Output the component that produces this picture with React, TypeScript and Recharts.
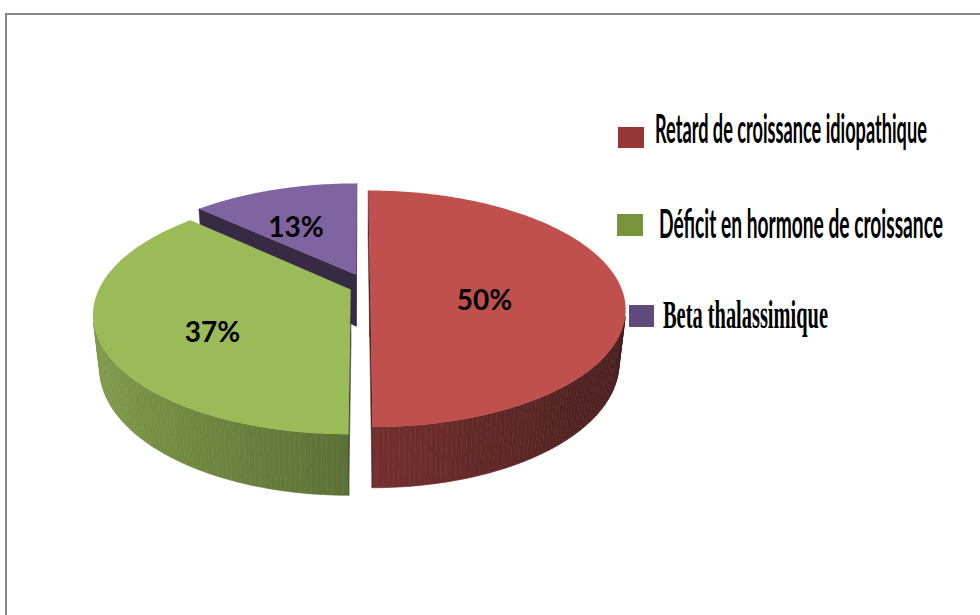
import { useLayoutEffect, useRef, useState } from 'react';
import { PieChart, Pie, Cell, Legend } from 'recharts';

const categories = [
  'Retard de croissance idiopathique',
  'Déficit en hormone de croissance',
  'Beta thalassimique',
];
const shares = [50, 37, 13];
const sliceColors = ['#c0504d', '#9bbb59', '#8064a2'];
const legendColors = ['#953735', '#77933c', '#604a7b'];

const data = categories.map((name, i) => ({ name, value: shares[i] }));

// 3d look: tilt of the pie plane, camera distance, thickness, explode distance
const TILT = (27 * Math.PI) / 180;
const DIST = 1107;
const DEPTH = 60;
const EXPLODE = 10;
const EXPLODE_BACK = 2.5; // explode pushes further along the depth axis
const RAD = Math.PI / 180;

type Pt = [number, number];

function project(cx: number, cy: number, x: number, b: number, z: number): Pt {
  const depth = DIST + b * Math.cos(TILT) - z * Math.sin(TILT);
  const s = DIST / depth;
  return [cx + x * s, cy - (b * Math.sin(TILT) + z * Math.cos(TILT)) * s];
}

function shade(hex: string, f: number) {
  const n = parseInt(hex.slice(1), 16);
  const c = [(n >> 16) & 255, (n >> 8) & 255, n & 255].map((v) =>
    Math.max(0, Math.min(255, Math.round(v * f)))
  );
  return `rgb(${c[0]},${c[1]},${c[2]})`;
}

function area(pts: Pt[]) {
  let s = 0;
  for (let i = 0; i < pts.length; i++) {
    const [x0, y0] = pts[i];
    const [x1, y1] = pts[(i + 1) % pts.length];
    s += x0 * y1 - x1 * y0;
  }
  return s / 2;
}

const toPath = (pts: Pt[]) =>
  pts.map((p, i) => `${i ? 'L' : 'M'}${p[0].toFixed(2)},${p[1].toFixed(2)}`).join('') + 'Z';

function explodeOffset(midDeg: number) {
  const m = midDeg * RAD;
  return [EXPLODE * Math.cos(m), EXPLODE * EXPLODE_BACK * Math.sin(m)];
}

function geom(props: any) {
  const { cx, cy, outerRadius: r, startAngle, endAngle } = props;
  const hi = Math.max(startAngle, endAngle);
  const lo = Math.min(startAngle, endAngle);
  const [ox, ob] = explodeOffset((hi + lo) / 2);
  const pt = (a: number, rr: number, z: number) =>
    project(cx, cy, ox + rr * Math.cos(a * RAD), ob + rr * Math.sin(a * RAD), z);
  return { hi, lo, r, pt };
}

const SliceSides = (props: any) => {
  const { hi, lo, r, pt } = geom(props);
  const fill = props.fill;
  const faces: { pts: Pt[]; color: string }[] = [];
  const steps = Math.max(2, Math.ceil(hi - lo));
  for (let i = 0; i < steps; i++) {
    const a0 = hi - ((hi - lo) * i) / steps;
    const a1 = hi - ((hi - lo) * (i + 1)) / steps;
    const quad: Pt[] = [pt(a0, r, 0), pt(a1, r, 0), pt(a1, r, -DEPTH), pt(a0, r, -DEPTH)];
    if (area(quad) < 0) {
      const nx = Math.cos(((a0 + a1) / 2) * RAD);
      faces.push({ pts: quad, color: shade(fill, 0.6 - 0.24 * nx) });
    }
  }
  const startFace: Pt[] = [pt(hi, 0, 0), pt(hi, r, 0), pt(hi, r, -DEPTH), pt(hi, 0, -DEPTH)];
  const endFace: Pt[] = [pt(lo, r, 0), pt(lo, 0, 0), pt(lo, 0, -DEPTH), pt(lo, r, -DEPTH)];
  [startFace, endFace].forEach((f) => {
    if (area(f) < 0) faces.push({ pts: f, color: shade(fill, 0.42) });
  });
  return (
    <g>
      {faces.map((f, i) => (
        <path key={i} d={toPath(f.pts)} fill={f.color} stroke={f.color} strokeWidth={0.6} />
      ))}
    </g>
  );
};

const SliceTop = (props: any) => {
  const { hi, lo, r, pt } = geom(props);
  const pts: Pt[] = [pt(hi, 0, 0)];
  const steps = Math.max(2, Math.ceil(hi - lo));
  for (let i = 0; i <= steps; i++) pts.push(pt(hi - ((hi - lo) * i) / steps, r, 0));
  return <path d={toPath(pts)} fill={props.fill} stroke="none" />;
};

// label sits a bit past the centroid of the slice's top face
const renderLabel = (props: any) => {
  const { cx, cy, midAngle, outerRadius, percent } = props;
  const m = midAngle * RAD;
  const half = Math.PI * percent;
  const rr = (1.08 * (2 / 3) * outerRadius * Math.sin(half)) / half;
  const [ox, ob] = explodeOffset(midAngle);
  const [x, y] = project(cx, cy, ox + rr * Math.cos(m), ob + rr * Math.sin(m), 0);
  return (
    <text
      x={x}
      y={y + 14}
      textAnchor="middle"
      dominantBaseline="central"
      fontFamily="Lato, 'Open Sans', sans-serif"
      fontWeight={700}
      fontSize={28}
      fill="#000"
    >
      {`${Math.round(percent * 100)}%`}
    </text>
  );
};

// squeezes a text horizontally to a given width
function FitText({ x, y, width, children, ...rest }: any) {
  const ref = useRef<SVGTextElement>(null);
  const [sx, setSx] = useState(1);
  useLayoutEffect(() => {
    if (ref.current) {
      const w = ref.current.getComputedTextLength();
      if (w > 0) setSx(width / w);
    }
  }, [width, children]);
  return (
    <text ref={ref} transform={`translate(${x},${y}) scale(${sx},1)`} {...rest}>
      {children}
    </text>
  );
}

// legend items: marker box and text box (relative to the legend wrapper)
const legendLayout = [
  { box: [18, 32, 26, 21], tx: 55, ty: 48, w: 272, font: "Lato, 'Open Sans', sans-serif" },
  { box: [17, 119, 26, 22], tx: 59, ty: 143, w: 284, font: "Lato, 'Open Sans', sans-serif" },
  { box: [29, 210, 25, 22], tx: 63, ty: 233, w: 165, font: "'Liberation Serif', serif" },
];

const LegendBox = () => (
  <svg width={370} height={260} style={{ overflow: 'visible' }}>
    {categories.map((c, i) => {
      const l = legendLayout[i];
      return (
        <g key={c}>
          <rect x={l.box[0]} y={l.box[1]} width={l.box[2]} height={l.box[3]} fill={legendColors[i]} />
          <FitText
            x={l.tx}
            y={l.ty}
            width={l.w}
            fontFamily={l.font}
            fontWeight={700}
            fontSize={41}
            fill="#000"
          >
            {c}
          </FitText>
        </g>
      );
    })}
  </svg>
);

export default function App() {
  return (
    <div
      style={{
        position: 'fixed',
        left: 0,
        top: 0,
        width: 980,
        height: 615,
        overflow: 'hidden',
        background: '#fff',
      }}
    >
      <div
        style={{
          position: 'absolute',
          left: 5,
          top: 13,
          width: 1000,
          height: 700,
          borderTop: '2px solid #878787',
          borderLeft: '2px solid #878787',
        }}
      />
      <PieChart width={980} height={615} margin={{ top: 0, right: 0, bottom: 0, left: 0 }}>
        <Pie
          data={data}
          dataKey="value"
          nameKey="name"
          cx={360}
          cy={285}
          outerRadius={250}
          startAngle={90}
          endAngle={-270}
          stroke="none"
          legendType="none"
          isAnimationActive={false}
          shape={SliceSides}
          activeShape={SliceSides}
          inactiveShape={SliceSides}
        >
          {data.map((d, i) => (
            <Cell key={d.name} fill={sliceColors[i]} />
          ))}
        </Pie>
        <Pie
          data={data}
          dataKey="value"
          nameKey="name"
          cx={360}
          cy={285}
          outerRadius={250}
          startAngle={90}
          endAngle={-270}
          stroke="none"
          isAnimationActive={false}
          shape={SliceTop}
          activeShape={SliceTop}
          inactiveShape={SliceTop}
          label={renderLabel}
          labelLine={false}
        >
          {data.map((d, i) => (
            <Cell key={d.name} fill={sliceColors[i]} />
          ))}
        </Pie>
        <Legend
          layout="vertical"
          align="right"
          verticalAlign="top"
          wrapperStyle={{ position: 'absolute', left: 600, top: 95, width: 370, height: 260 }}
          content={() => <LegendBox />}
        />
      </PieChart>
    </div>
  );
}
